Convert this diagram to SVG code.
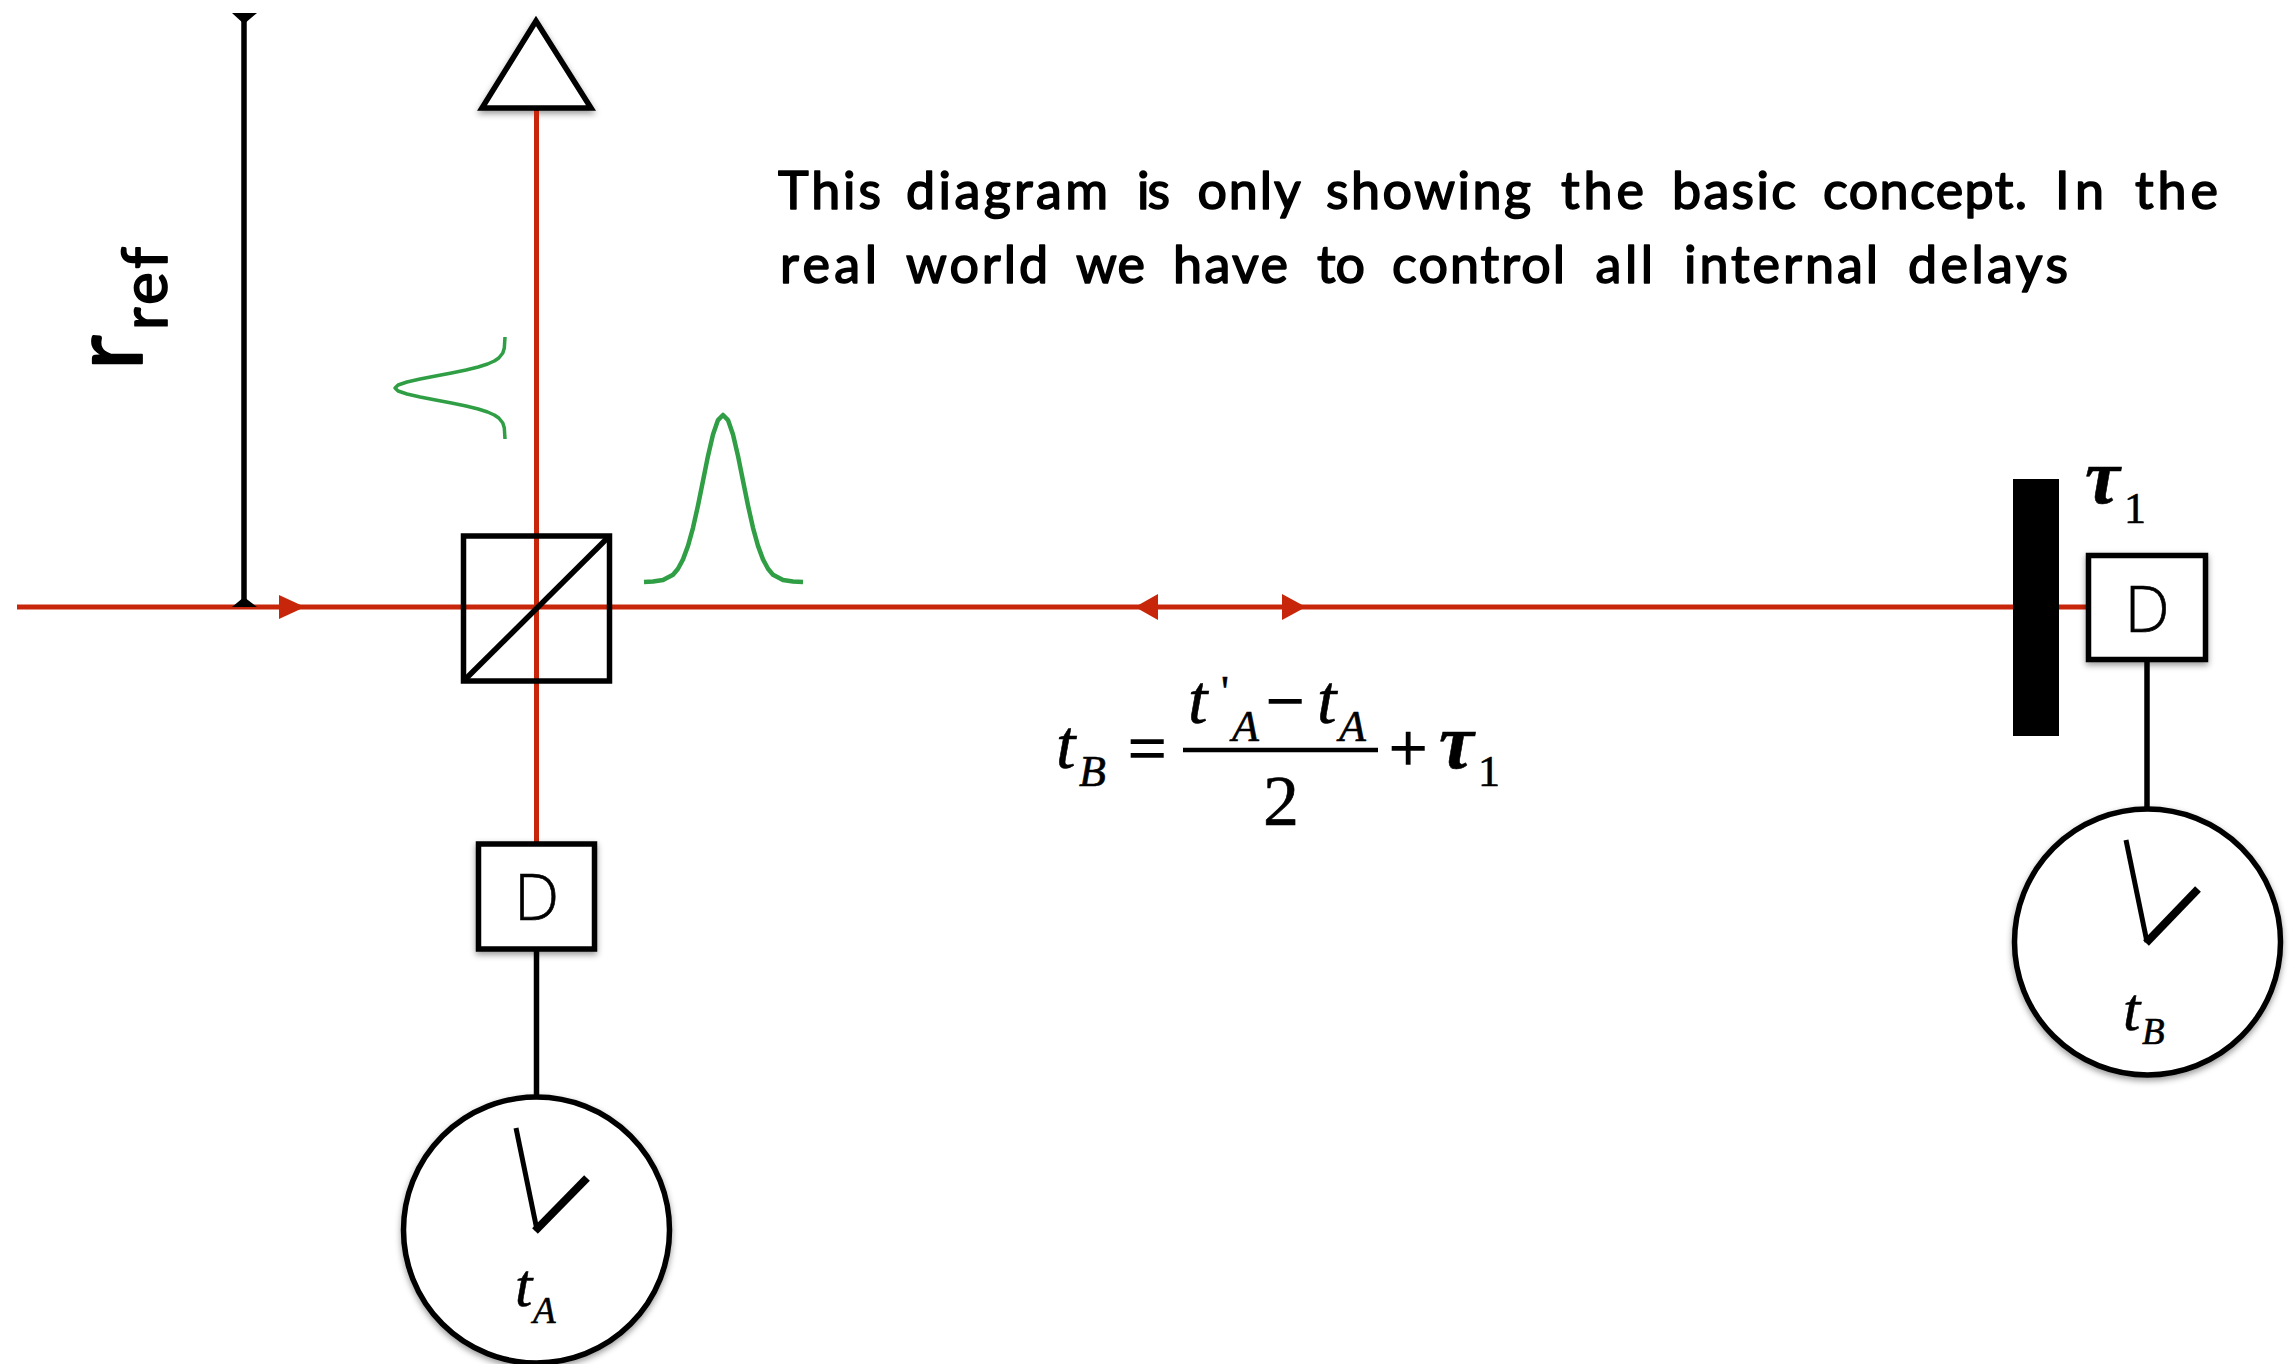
<svg xmlns="http://www.w3.org/2000/svg" width="2293" height="1364" viewBox="0 0 2293 1364">
<defs>
<filter id="sh" x="-10%" y="-10%" width="120%" height="125%"><feDropShadow dx="0" dy="3" stdDeviation="3" flood-color="#000" flood-opacity="0.4"/></filter>
</defs>
<style>
.k{fill:none;stroke:#000;stroke-width:5.500}
.n{fill:#fff;stroke:#000;stroke-width:5.500}
.r{fill:none;stroke:#c8260a;stroke-width:5}
.ra{fill:#c8260a}
.g{fill:none;stroke:#2f9e44;stroke-width:3.500;stroke-linejoin:round}
.s{font-family:"Liberation Serif",serif;fill:#000;stroke:#000;stroke-width:.6}
.o{stroke-width:1.400}
.i{font-style:italic}
.d{font-family:"Open Sans",sans-serif;font-weight:300;font-size:64px;text-anchor:middle;fill:#000;stroke:#000;stroke-width:.6}
.h{font-family:"Lato",sans-serif;fill:#000;stroke:#000;stroke-linejoin:round}
.t{font-size:52px;stroke-width:1.600}
</style>
<rect width="2293" height="1364" fill="#fff"/>
<g id="connectors">
<path class="r" d="M17 607H2086"/>
<path class="r" d="M536.500 108V842"/>
<path class="k" d="M244 20V600"/>
<path class="k" d="M536.500 951V1095"/>
<path class="k" d="M2147 662V808"/>
<path d="M232 13H257L244 24Z M232 607H257L244 597Z" fill="#000"/>
<path class="ra" d="M279 595L305 607L279 619Z"/>
<path class="ra" d="M1135 607L1158 594V620Z"/>
<path class="ra" d="M1282 594L1306 607L1282 620Z"/>
</g>
<g id="reflector"><path class="n" filter="url(#sh)" d="M536 21L591 108H482Z"/><path class="r" d="M536.500 111V120"/></g>
<g id="splitter">
<rect class="k" x="463.500" y="536" width="146" height="145"/>
<path class="k" d="M463.500 681L609.500 536"/>
</g>
<g id="pulse-small"><polyline class="g" points="505,337 504.300,348 502.800,353 498.800,358 494.300,361 487.600,364 478.200,367 466,370 451.500,373 435.600,376 420.100,379 407,382 398.100,385 395,388 398.100,391 407,394 420.100,397 435.600,400 451.500,403 466,406 478.200,409 487.600,412 494.300,415 498.800,418 502.800,423 504.300,428 505,439"/></g>
<g id="pulse-large"><polyline class="g" style="stroke-width:4.500" points="644,582 653,581.600 663,580.100 673,574.700 678,568.700 683,559.400 688,545.900 693,527.800 698,505.500 703,480.700 708,455.900 713,434.600 718,420.100 723,415 728,420.100 733,434.600 738,455.900 743,480.700 748,505.500 753,527.800 758,545.900 763,559.400 768,568.700 773,574.700 783,580.100 793,581.600 803,582"/></g>
<g id="mirror"><rect x="2013" y="479" width="46" height="257" fill="#000"/></g>
<g id="detector-a"><rect class="n" filter="url(#sh)" x="478.500" y="844" width="116" height="105"/><text class="d" x="536.500" y="920">D</text></g>
<g id="detector-b"><rect class="n" filter="url(#sh)" x="2088.500" y="555.500" width="117" height="104"/><text class="d" x="2147" y="632">D</text></g>
<g id="clock-a"><circle class="n" filter="url(#sh)" cx="536.500" cy="1230" r="133"/>
<path d="M516 1128L537 1230" fill="none" stroke="#000" stroke-width="5"/><path d="M535 1231L587 1178" fill="none" stroke="#000" stroke-width="8"/>
<text class="s i" x="515" y="1306" font-size="62">t</text><text class="s i" x="533" y="1323" font-size="37">A</text></g>
<g id="clock-b"><circle class="n" filter="url(#sh)" cx="2147.500" cy="942" r="133"/>
<path d="M2126 840L2147 942" fill="none" stroke="#000" stroke-width="5"/><path d="M2146 943L2198 889" fill="none" stroke="#000" stroke-width="8"/>
<text class="s i" x="2123" y="1030" font-size="62">t</text><text class="s i" x="2142" y="1044" font-size="37">B</text></g>
<g id="label-tau"><text class="s i" x="2085" y="503" font-size="78" font-weight="bold">τ</text><text class="s" x="2124" y="523" font-size="44">1</text></g>
<g id="label-rref">
<text class="h" transform="translate(141.500 370) rotate(-90)" font-size="96" stroke-width="1.800">r</text>
<text class="h" transform="translate(167 330) rotate(-90)" font-size="62" stroke-width="1.700" textLength="83" lengthAdjust="spacing">ref</text>
</g>
<g id="note">
<text class="h t" y="209"><tspan x="778" textLength="103">This</tspan> <tspan x="906" textLength="202">diagram</tspan> <tspan x="1137" textLength="33">is</tspan> <tspan x="1197.500" textLength="102">only</tspan> <tspan x="1326" textLength="205">showing</tspan> <tspan x="1561" textLength="83">the</tspan> <tspan x="1672" textLength="124">basic</tspan> <tspan x="1823" textLength="204">concept.</tspan> <tspan x="2055" textLength="49">In</tspan> <tspan x="2135" textLength="83">the</tspan></text>
<text class="h t" y="283"><tspan x="780" textLength="97">real</tspan> <tspan x="906" textLength="142">world</tspan> <tspan x="1076" textLength="69">we</tspan> <tspan x="1173" textLength="115">have</tspan> <tspan x="1317" textLength="48">to</tspan> <tspan x="1392" textLength="173">control</tspan> <tspan x="1595.500" textLength="57.500">all</tspan> <tspan x="1684" textLength="194">internal</tspan> <tspan x="1908" textLength="160">delays</tspan></text>
</g>
<g id="equation">
<text class="s i" x="1056" y="768" font-size="70">t</text><text class="s i" x="1079" y="786" font-size="44">B</text>
<text class="s o" x="1128" y="771" font-size="68">=</text>
<text class="s i" x="1188" y="723" font-size="70">t</text><text class="s" x="1221" y="706" font-size="44">'</text><text class="s i" x="1232" y="741" font-size="44">A</text>
<text class="s o" x="1266" y="724" font-size="68">−</text>
<text class="s i" x="1317" y="723" font-size="70">t</text><text class="s i" x="1339" y="741" font-size="44">A</text>
<path d="M1183 750H1378" stroke="#000" stroke-width="4.500"/>
<text class="s" x="1263" y="825" font-size="72">2</text>
<text class="s o" x="1389" y="771" font-size="68">+</text>
<text class="s i" x="1439" y="768" font-size="78" font-weight="bold">τ</text><text class="s" x="1478" y="786" font-size="44">1</text>
</g>
</svg>
